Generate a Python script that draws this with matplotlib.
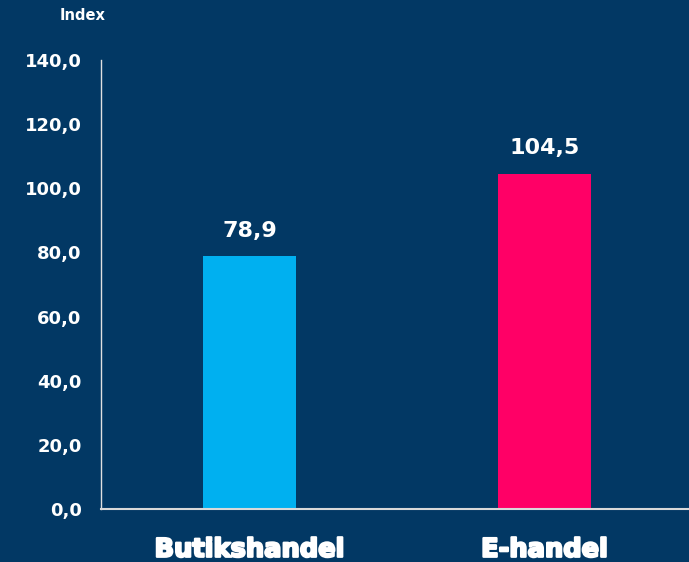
import matplotlib.pyplot as plt
import matplotlib.patheffects as pe

categories = ['Butikshandel', 'E-handel']
values = [78.9, 104.5]
colors = ['#00B0F0', '#FF0066']
yticks = [0, 20, 40, 60, 80, 100, 120, 140]

bg = '#023864'

fig = plt.figure(figsize=(6.89, 5.62), dpi=100, facecolor=bg)
ax = fig.add_axes([0.1466, 0.0943, 0.8534, 0.7989], facecolor=bg)

x = range(len(categories))
ax.bar(x, values, width=0.315, color=colors)

for xi, v in zip(x, values):
    ax.annotate(f'{v:.1f}'.replace('.', ','), (xi, v), xytext=(0, 14),
                textcoords='offset points', ha='center', va='baseline',
                color='white', fontsize=16, fontweight='bold')

ax.set_xlim(-0.5035, 1.49)
ax.set_ylim(0, 140)
ax.set_yticks(yticks)
ax.set_yticklabels([f'{t:.1f}'.replace('.', ',') for t in yticks])
ax.set_xticks(list(x))
ax.set_xticklabels(categories)

ax.tick_params(axis='y', length=0, pad=14, colors='white', labelsize=13)
ax.tick_params(axis='x', length=0, pad=20, colors='white', labelsize=18.5)
for lab in ax.get_yticklabels():
    lab.set_fontweight('bold')
for lab in ax.get_xticklabels():
    lab.set_fontweight('heavy')
    lab.set_path_effects([pe.withStroke(linewidth=1.6, foreground='white')])

for s in ['top', 'right']:
    ax.spines[s].set_visible(False)
ax.spines['left'].set_color('#e0e0e0')
ax.spines['left'].set_linewidth(1)
ax.spines['bottom'].set_color('#d9d9d9')
ax.spines['bottom'].set_linewidth(1.5)

fig.text(83 / 689, 1 - 15 / 562, 'Index', color='white', fontsize=10.5,
         fontweight='bold', ha='center', va='center')

fig.savefig('out.png', dpi=100, facecolor=bg)
